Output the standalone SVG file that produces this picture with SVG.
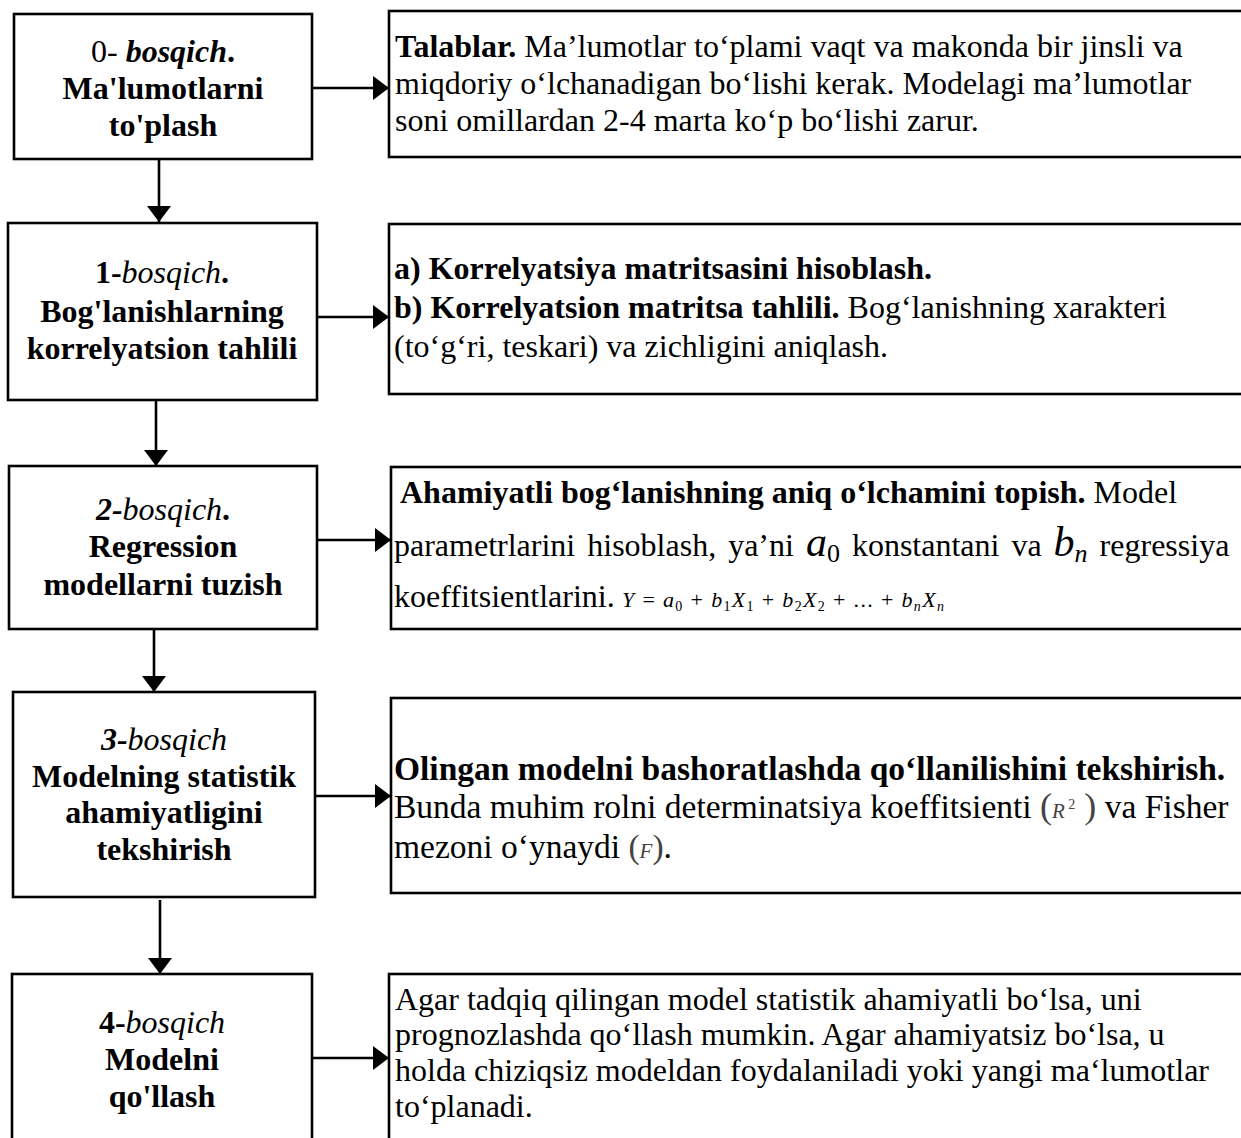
<svg xmlns="http://www.w3.org/2000/svg" width="1241" height="1138" viewBox="0 0 1241 1138">
<style>
.box{fill:#fff;stroke:#000;stroke-width:2.6}
.ln{stroke:#000;stroke-width:2.6;fill:none}
.t{font-family:"Liberation Serif","Times New Roman",serif;font-size:32px;fill:#000}
.t3{font-size:33.5px}
.b{font-weight:bold}
.i{font-style:italic}
.c{text-anchor:middle}
.m{font-family:"Liberation Serif","Times New Roman",serif;font-style:italic;fill:#000}
.f{font-family:"Liberation Serif","Times New Roman",serif;font-size:22px;fill:#000}
.p{fill:#444}
</style>
<defs>
<marker id="ah" viewBox="0 0 16 24" refX="16" refY="12" markerWidth="16" markerHeight="24" markerUnits="userSpaceOnUse" orient="auto">
<path d="M0,0 L16,12 L0,24 z" fill="#000"/>
</marker>
</defs>
<rect width="1241" height="1138" fill="#fff"/>

<g id="connectors">
<line class="ln" x1="159" y1="159" x2="159" y2="222" marker-end="url(#ah)"/>
<line class="ln" x1="156" y1="400" x2="156" y2="466" marker-end="url(#ah)"/>
<line class="ln" x1="154" y1="629" x2="154" y2="692" marker-end="url(#ah)"/>
<line class="ln" x1="160" y1="900" x2="160" y2="974" marker-end="url(#ah)"/>
<line class="ln" x1="312" y1="88" x2="389" y2="88" marker-end="url(#ah)"/>
<line class="ln" x1="317" y1="317" x2="389" y2="317" marker-end="url(#ah)"/>
<line class="ln" x1="317" y1="540" x2="391" y2="540" marker-end="url(#ah)"/>
<line class="ln" x1="315" y1="796" x2="391" y2="796" marker-end="url(#ah)"/>
<line class="ln" x1="312" y1="1058" x2="389" y2="1058" marker-end="url(#ah)"/>
</g>

<g id="stage0">
<rect class="box" x="14" y="14" width="298" height="145"/>
<text class="t c" x="163" y="62">0- <tspan class="b i">bosqich</tspan><tspan class="b">.</tspan></text>
<text class="t c b" x="163" y="99">Ma'lumotlarni</text>
<text class="t c b" x="163" y="136">to'plash</text>
</g>

<g id="stage0-desc">
<rect class="box" x="389" y="11" width="870" height="146"/>
<text class="t" x="395" y="57"><tspan class="b">Talablar.</tspan> Ma’lumotlar to‘plami vaqt va makonda bir jinsli va</text>
<text class="t" x="395" y="94">miqdoriy o‘lchanadigan bo‘lishi kerak. Modelagi ma’lumotlar</text>
<text class="t" x="395" y="131">soni omillardan 2-4 marta ko‘p bo‘lishi zarur.</text>
</g>

<g id="stage1">
<rect class="box" x="8" y="223" width="309" height="177"/>
<text class="t c" x="162" y="283"><tspan class="b">1-</tspan><tspan class="i">bosqich</tspan><tspan class="b">.</tspan></text>
<text class="t c b" x="162" y="322">Bog'lanishlarning</text>
<text class="t c b" x="162" y="359">korrelyatsion tahlili</text>
</g>

<g id="stage1-desc">
<rect class="box" x="389" y="224" width="870" height="170"/>
<text class="t b" x="394" y="279">a) Korrelyatsiya matritsasini hisoblash.</text>
<text class="t" x="394" y="318"><tspan class="b">b) Korrelyatsion matritsa tahlili.</tspan> Bog‘lanishning xarakteri</text>
<text class="t" x="394" y="357">(to‘g‘ri, teskari) va zichligini aniqlash.</text>
</g>

<g id="stage2">
<rect class="box" x="9" y="466" width="308" height="163"/>
<text class="t c" x="163" y="520"><tspan class="b i">2-</tspan><tspan class="i">bosqich</tspan><tspan class="b">.</tspan></text>
<text class="t c b" x="163" y="557">Regression</text>
<text class="t c b" x="163" y="595">modellarni tuzish</text>
</g>

<g id="stage2-desc">
<rect class="box" x="391" y="467" width="870" height="162"/>
<text class="t" x="400" y="503"><tspan class="b">Ahamiyatli bog‘lanishning aniq o‘lchamini topish.</tspan> Model</text>
<text class="t" x="394" y="556" word-spacing="4">parametrlarini hisoblash, ya’ni <tspan class="m" font-size="42">a</tspan><tspan font-size="26" dy="6">0</tspan><tspan dy="-6"> konstantani va </tspan><tspan class="m" font-size="42">b</tspan><tspan class="m" font-size="26" dy="6">n</tspan><tspan dy="-6"> regressiya</tspan></text>
<text class="t" x="394" y="607">koeffitsientlarini.</text>
<text class="f" x="622" y="607" textLength="322" lengthAdjust="spacing"><tspan class="m">Y</tspan> = <tspan class="m">a</tspan><tspan font-size="14" dy="4">0</tspan><tspan dy="-4"> + </tspan><tspan class="m">b</tspan><tspan font-size="14" dy="4">1</tspan><tspan class="m" dy="-4">X</tspan><tspan font-size="14" dy="4">1</tspan><tspan dy="-4"> + </tspan><tspan class="m">b</tspan><tspan font-size="14" dy="4">2</tspan><tspan class="m" dy="-4">X</tspan><tspan font-size="14" dy="4">2</tspan><tspan dy="-4"> + ... + </tspan><tspan class="m">b</tspan><tspan class="m" font-size="14" dy="4">n</tspan><tspan class="m" dy="-4">X</tspan><tspan class="m" font-size="14" dy="4">n</tspan></text>
</g>

<g id="stage3">
<rect class="box" x="13" y="692" width="302" height="205"/>
<text class="t c" x="164" y="750"><tspan class="b i">3-</tspan><tspan class="i">bosqich</tspan></text>
<text class="t c b" x="164" y="787">Modelning statistik</text>
<text class="t c b" x="164" y="823">ahamiyatligini</text>
<text class="t c b" x="164" y="860">tekshirish</text>
</g>

<g id="stage3-desc">
<rect class="box" x="391" y="698" width="870" height="195"/>
<text class="t t3 b" x="394" y="780">Olingan modelni bashoratlashda qo‘llanilishini tekshirish.</text>
<text class="t t3" x="394" y="818">Bunda muhim rolni determinatsiya koeffitsienti <tspan class="p" font-size="36">(</tspan><tspan class="m p" font-size="21">R</tspan><tspan class="p" font-size="14" dy="-9"> 2</tspan><tspan class="p" font-size="36" dy="9"> )</tspan> va Fisher</text>
<text class="t t3" x="394" y="858">mezoni o‘ynaydi <tspan class="p">(</tspan><tspan class="m p" font-size="21">F</tspan><tspan class="p">)</tspan>.</text>
</g>

<g id="stage4">
<rect class="box" x="12" y="974" width="300" height="190"/>
<text class="t c" x="162" y="1033"><tspan class="b">4-</tspan><tspan class="i">bosqich</tspan></text>
<text class="t c b" x="162" y="1070">Modelni</text>
<text class="t c b" x="162" y="1107">qo'llash</text>
</g>

<g id="stage4-desc">
<rect class="box" x="389" y="974" width="870" height="190"/>
<text class="t" x="395" y="1010">Agar tadqiq qilingan model statistik ahamiyatli bo‘lsa, uni</text>
<text class="t" x="395" y="1045">prognozlashda qo‘llash mumkin. Agar ahamiyatsiz bo‘lsa, u</text>
<text class="t" x="395" y="1081">holda chiziqsiz modeldan foydalaniladi yoki yangi ma‘lumotlar</text>
<text class="t" x="395" y="1117">to‘planadi.</text>
</g>
</svg>
